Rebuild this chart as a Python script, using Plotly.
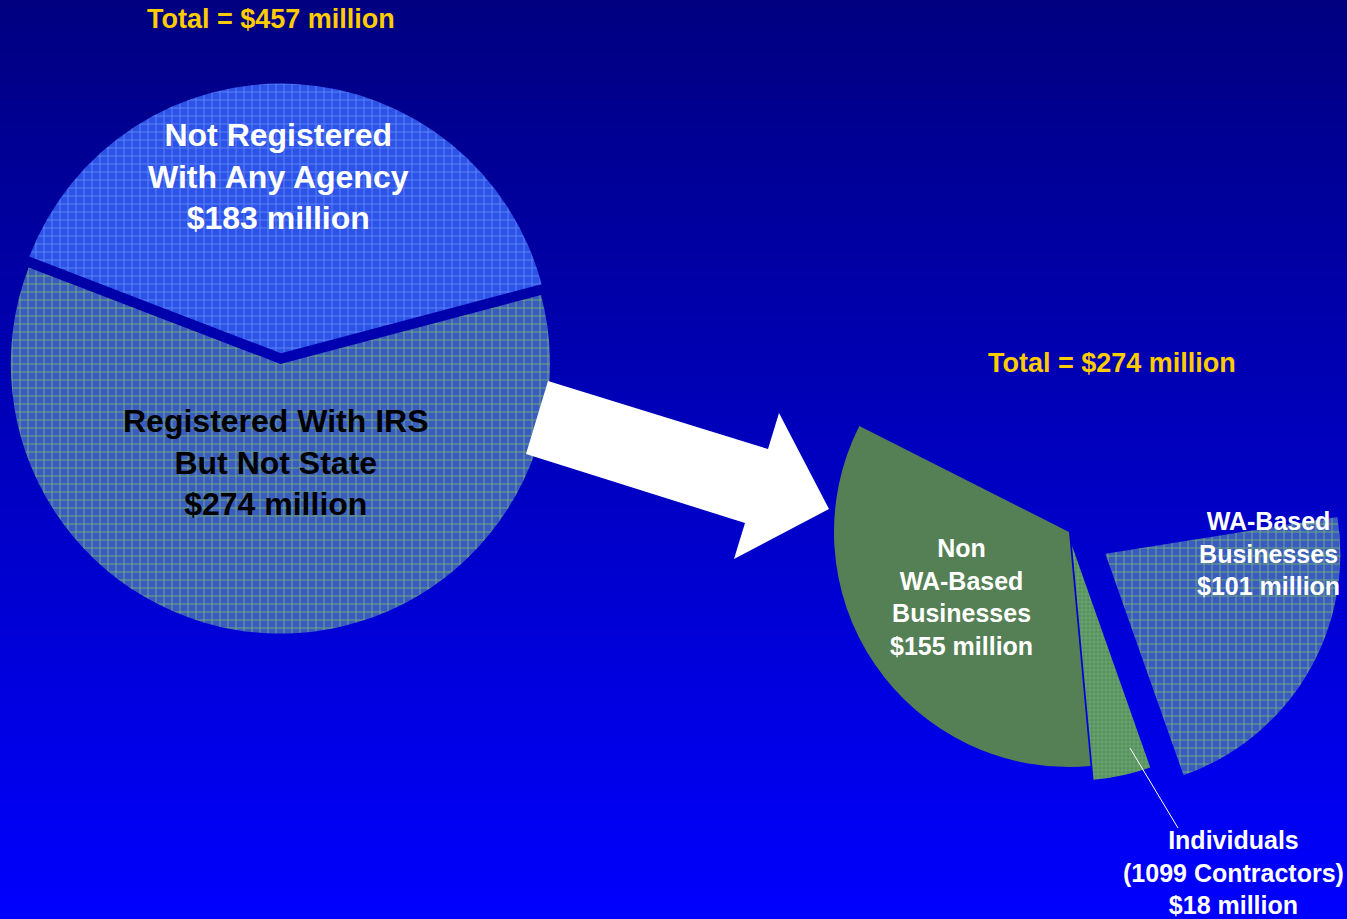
import plotly.graph_objects as go

W, H = 1347, 919

# ---- data ----
left_labels = ["Not Registered<br>With Any Agency", "Registered With IRS<br>But Not State"]
left_values = [183, 274]
left_total = sum(left_values)

right_labels = ["WA-Based<br>Businesses", "Individuals<br>(1099 Contractors)", "Non<br>WA-Based<br>Businesses", "Not Registered"]
right_values = [101, 18, 155, 183]
right_total = sum(right_values[:3])


def px(x, y):
    return x / W, 1 - y / H


def domain(cx, cy, r, pull):
    half = r * (1 + pull)
    x0, y1 = px(cx - half, cy - half)
    x1, y0 = px(cx + half, cy + half)
    return dict(x=[max(0, x0), min(1, x1)], y=[max(0, y0), min(1, y1)])


fig = go.Figure()

fig.add_trace(go.Pie(
    labels=left_labels, values=left_values, sort=False, direction="clockwise",
    rotation=-69, pull=[0.04, 0], textinfo="none", hoverinfo="none",
    showlegend=False,
    marker=dict(
        colors=["#2c52ea", "#3a5cc8"],
        line=dict(width=0),
        pattern=dict(shape=["+", "+"], fgcolor=["#5f85f2", "#72b072"],
                     bgcolor=["#2c52ea", "#3a5ac4"], size=8, solidity=0.22),
    ),
    domain=domain(280, 364, 270, 0.04),
))

fig.add_trace(go.Pie(
    labels=right_labels, values=right_values, sort=False, direction="clockwise",
    rotation=81, pull=[0.18, 0.06, 0, 0], textinfo="none", hoverinfo="none",
    showlegend=False,
    marker=dict(
        colors=["#3a5ac4", "#5a9060", "#558055", "rgba(0,0,0,0)"],
        line=dict(width=0),
        pattern=dict(shape=["+", "+", "", ""],
                     fgcolor=["#72b072", "#7fb87f", "#558055", "rgba(0,0,0,0)"],
                     bgcolor=["#3a5ac4", "#55905f", "#558055", "rgba(0,0,0,0)"],
                     size=[8, 4, 8, 8], solidity=0.22),
    ),
    domain=domain(1069, 532, 235, 0.18),
))

shapes = []
# background gradient (navy at top to bright blue at bottom)
n = 120
for i in range(n):
    t = (i + 0.5) / n
    b = int(round(128 + 127 * t))
    shapes.append(dict(type="rect", xref="paper", yref="paper", layer="below",
                       x0=0, x1=1, y0=1 - (i + 1) / n - 0.002, y1=1 - i / n,
                       fillcolor=f"rgb(0,0,{b})", line=dict(width=0)))

# arrow
pts = [(548, 381), (526, 454), (745, 523), (734, 559), (829, 509), (779, 413), (768, 449)]
path = "M " + " L ".join(f"{px(x, y)[0]:.5f},{px(x, y)[1]:.5f}" for x, y in pts) + " Z"
shapes.append(dict(type="path", xref="paper", yref="paper", layer="above", path=path,
                   fillcolor="white", line=dict(width=0)))

# leader line for Individuals
lx0, ly0 = px(1130, 748)
lx1, ly1 = px(1178, 828)
shapes.append(dict(type="line", xref="paper", yref="paper", x0=lx0, y0=ly0, x1=lx1, y1=ly1,
                   line=dict(color="white", width=1)))

FONT = "Liberation Sans, Arial, sans-serif"


def ann(text, x, y, size, color, yanchor="middle"):
    ax, ay = px(x, y)
    return dict(text=f"<b>{text}</b>", x=ax, y=ay, xref="paper", yref="paper",
                showarrow=False, xanchor="center", yanchor=yanchor, align="center",
                font=dict(family=FONT, size=size, color=color))


annotations = [
    ann(f"Total = ${left_total} million", 271, 19, 27, "#FFCC00"),
    ann(f"Total = ${right_total} million", 1112, 363, 27, "#FFCC00"),
    ann(f"{left_labels[0]}<br>${left_values[0]} million", 278, 176, 32, "white"),
    ann(f"{left_labels[1]}<br>${left_values[1]} million", 276, 462, 32, "black"),
    ann(f"{right_labels[2]}<br>${right_values[2]} million", 961, 597, 25, "white"),
    ann(f"{right_labels[0]}<br>${right_values[0]} million", 1268, 553, 25, "white"),
    ann(f"{right_labels[1]}<br>${right_values[1]} million", 1233, 872, 25, "white"),
]

fig.update_layout(
    width=W, height=H, margin=dict(l=0, r=0, t=0, b=0),
    paper_bgcolor="#0000c0", plot_bgcolor="rgba(0,0,0,0)",
    shapes=shapes, annotations=annotations,
)

fig.write_html(
    "out.html",
    config={"displayModeBar": False},
    post_script="document.body.style.margin='0px';document.body.style.overflow='hidden';",
)
